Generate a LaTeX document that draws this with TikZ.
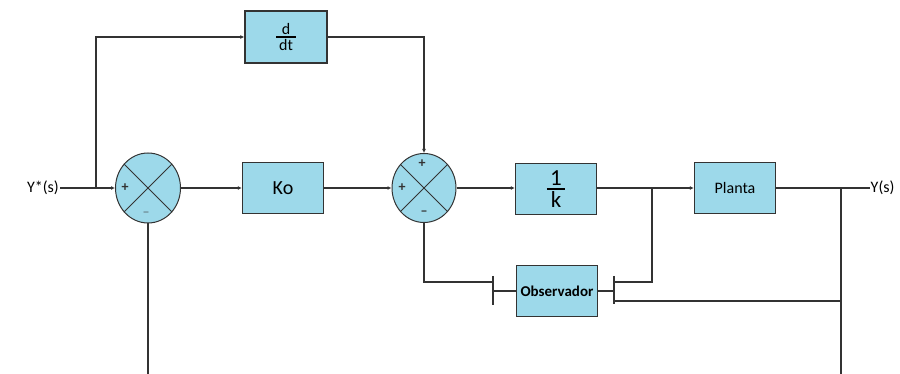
\documentclass[tikz,border=0pt]{standalone}
\usepackage{amsmath}
\usepackage{fontspec}
\setmainfont{Carlito}
\usetikzlibrary{positioning,arrows.meta,shapes.geometric}
\definecolor{boxfill}{HTML}{9DD9EA}
\definecolor{edge}{HTML}{333333}
\definecolor{faint}{HTML}{6E8A94}
\tikzset{
  block/.style={draw=edge,fill=boxfill,line width=1.4pt,minimum width=81pt,minimum height=51pt,inner sep=0pt,align=center,font=\fontsize{16}{18}\selectfont},
  sumnode/.style={ellipse,draw=edge,fill=boxfill,line width=1pt,inner sep=0pt},
  flow/.style={-{Latex[length=4pt,width=4pt]},draw=edge,line width=1.4pt},
  wire/.style={draw=edge,line width=1.4pt},
  bar/.style={draw=edge,line width=1.6pt},
  sign/.style={font=\fontsize{14}{14}\selectfont\bfseries,text=edge,inner sep=0pt},
  lbl/.style={font=\fontsize{16}{18}\selectfont,inner sep=1pt}}
\begin{document}
\begin{tikzpicture}[x=1pt,y=-1pt]
  \useasboundingbox (0,0) rectangle (900,374);
  % summing points
  \node[sumnode,minimum width=65pt,minimum height=70pt] (s1) at (148,188) {};
  \node[sumnode,minimum width=64pt,minimum height=69pt] (s2) at (424,188) {};
  \draw[edge,line width=1pt] (s1.45) -- (s1.225) (s1.135) -- (s1.315);
  \draw[edge,line width=1pt] (s2.45) -- (s2.225) (s2.135) -- (s2.315);
  \node[sign] at (125,188) {+};
  \node[sign,text=faint] at (146,214) {--};
  \node[sign] at (422,164) {+};
  \node[sign] at (402,188) {+};
  \node[sign] at (424,213) {--};
  % blocks
  \node[block,minimum width=82pt,minimum height=52pt] (ddt) at (286,37) {$\genfrac{}{}{1.4pt}{}{\hbox{d}}{\hbox{\,dt\,}}$};
  \node[block,font=\fontsize{20}{22}\selectfont] (ko) at (283,188) {Ko};
  \node[block,font=\fontsize{23}{24}\selectfont] (inv) at (556,189) {$\genfrac{}{}{1.6pt}{}{\hbox{1}}{\hbox{\,k\,}}$};
  \node[block] (planta) at (735,188) {Planta};
  \node[block,font=\fontsize{15}{16}\selectfont\bfseries] (obs) at (557,291) {Observador};
  % signals
  \node[lbl,anchor=east] (ystar) at (60,188) {Y*(s)};
  \node[lbl,anchor=west,inner sep=0.5pt] (yout) at (870,188) {Y(s)};
  \coordinate (br1) at (96,188);
  \coordinate (br2) at (652,188);
  \coordinate (br3) at (841,188);
  \coordinate (fb) at (841,301);
  \coordinate (bot1) at (148,374);
  \coordinate (bot2) at (841,374);
  \coordinate (obsinL) at (493,282);
  \coordinate (obsinR) at (614,282);
  \coordinate (obsinR2) at (614,301);
  \coordinate (barL) at (493,291);
  \coordinate (barR) at (614,291);
  \draw[bar] (493,276) -- (493,305);
  \draw[bar] (614,276) -- (614,304);
  % connectors
  \draw[flow] (ystar) -- (s1);
  \draw[flow] (br1) |- (ddt);
  \draw[flow] (ddt) -| (s2);
  \draw[flow] (s1) -- (ko);
  \draw[flow] (ko) -- (s2);
  \draw[flow] (s2.east) -- (s2.east -| inv.west);
  \draw[flow] (inv.east |- planta.west) -- (planta);
  \draw[wire] (planta) -- (yout);
  \draw[wire] (br2) |- (obsinR);
  \draw[wire] (br3) -- (bot2);
  \draw[wire] (fb) -- (obsinR2);
  \draw[wire] (obs) -- (barR);
  \draw[wire] (obs) -- (barL);
  \draw[wire] (s2) |- (obsinL);
  \draw[wire] (s1) -- (bot1);
\end{tikzpicture}
\end{document}
